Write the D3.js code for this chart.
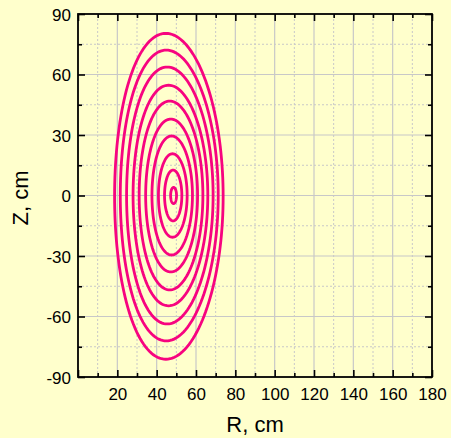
<!DOCTYPE html>
<html>
<head>
<meta charset="utf-8">
<script src="https://cdn.jsdelivr.net/npm/d3@7"></script>
<style>
  html, body { margin: 0; padding: 0; background: #ffffcc; }
  svg { display: block; }
  text { font-family: "Liberation Sans", Arial, Helvetica, sans-serif; fill: #000; }
</style>
</head>
<body>
<div id="chart"></div>
<script>
// ---- data ----
const xTickValues = [0, 20, 40, 60, 80, 100, 120, 140, 160, 180];
const xTickLabels = ["", "20", "40", "60", "80", "100", "120", "140", "160", "180"];
const xMinorValues = [10, 30, 50, 70, 90, 110, 130, 150, 170];
const yTickValues = [-90, -60, -30, 0, 30, 60, 90];
const yTickLabels = ["-90", "-60", "-30", "0", "30", "60", "90"];
const yMinorValues = [-75, -45, -15, 15, 45, 75];

// nested flux-surface contours (inner -> outer)
const contourCenterR   = [48.6, 48.4, 48.2, 47.9, 47.6, 47.3, 47.0, 46.7, 46.4, 46.2];
const contourCenterZ   = [0, 0, 0, 0, 0, 0, 0, 0, 0, -0.4];
const contourHalfWidth = [1.5, 4.4, 7.3, 10.3, 13.2, 16.2, 19.0, 22.0, 24.9, 27.6];
const contourHalfHeight= [4.0, 12.6, 20.7, 29.5, 37.9, 46.8, 54.7, 63.7, 72.1, 80.8];
const contourTriang    = [0.0, 0.01, 0.02, 0.03, 0.03, 0.04, 0.05, 0.06, 0.06, 0.055];

// ---- layout ----
const W = 451, H = 438;
const m = { left: 78, right: 19, top: 14, bottom: 61 };
const iw = W - m.left - m.right, ih = H - m.top - m.bottom;

const svg = d3.select("#chart").append("svg").attr("width", W).attr("height", H);
svg.append("rect").attr("width", W).attr("height", H).attr("fill", "#ffffcc");

const x = d3.scaleLinear().domain([0, 180]).range([m.left, m.left + iw]);
const y = d3.scaleLinear().domain([-90, 90]).range([m.top + ih, m.top]);

const g = svg.append("g");

// grid
const gridMajor = "#c8c8c8", gridMinor = "#c8c8c8";
g.selectAll(".vmin").data(xMinorValues).enter().append("line")
  .attr("x1", d => x(d)).attr("x2", d => x(d)).attr("y1", y(-90)).attr("y2", y(90))
  .attr("stroke", gridMinor).attr("stroke-width", 1).attr("stroke-dasharray", "2,2");
g.selectAll(".hmin").data(yMinorValues).enter().append("line")
  .attr("y1", d => y(d)).attr("y2", d => y(d)).attr("x1", x(0)).attr("x2", x(180))
  .attr("stroke", gridMinor).attr("stroke-width", 1).attr("stroke-dasharray", "2,2");
g.selectAll(".vmaj").data(xTickValues.slice(1, -1)).enter().append("line")
  .attr("x1", d => x(d)).attr("x2", d => x(d)).attr("y1", y(-90)).attr("y2", y(90))
  .attr("stroke", gridMajor).attr("stroke-width", 1.2);
g.selectAll(".hmaj").data(yTickValues.slice(1, -1)).enter().append("line")
  .attr("y1", d => y(d)).attr("y2", d => y(d)).attr("x1", x(0)).attr("x2", x(180))
  .attr("stroke", gridMajor).attr("stroke-width", 1.2);

// contours
const line = d3.line().x(d => x(d[0])).y(d => y(d[1])).curve(d3.curveLinearClosed);
const nSeg = 160;
contourCenterR.forEach((R0, i) => {
  const a = contourHalfWidth[i], b = contourHalfHeight[i], dlt = contourTriang[i], Z0 = contourCenterZ[i];
  const pts = d3.range(nSeg).map(k => {
    const t = 2 * Math.PI * k / nSeg;
    return [R0 + a * Math.cos(t + dlt * Math.sin(t)), Z0 + b * Math.sin(t)];
  });
  g.append("path").attr("d", line(pts)).attr("fill", "none")
    .attr("stroke", "#f7047f").attr("stroke-width", 2.8);
});

// axes (ticks inward on all sides)
const majorLen = 7, minorLen = 4;
const noLabel = () => "";
function ax(gen, tv, tf, tr) {
  return svg.append("g").attr("transform", tr).call(gen.tickValues(tv).tickFormat(tf).tickSizeOuter(0));
}
const fmtX = (d, i) => xTickLabels[i];
const fmtY = (d, i) => yTickLabels[i];

const axBot = ax(d3.axisBottom(x).tickSizeInner(-majorLen), xTickValues, fmtX, `translate(0,${y(-90)})`);
const axBotMin = ax(d3.axisBottom(x).tickSizeInner(-minorLen), xMinorValues, noLabel, `translate(0,${y(-90)})`);
const axTop = ax(d3.axisTop(x).tickSizeInner(-majorLen), xTickValues, noLabel, `translate(0,${y(90)})`);
const axTopMin = ax(d3.axisTop(x).tickSizeInner(-minorLen), xMinorValues, noLabel, `translate(0,${y(90)})`);
const axLft = ax(d3.axisLeft(y).tickSizeInner(-majorLen), yTickValues, fmtY, `translate(${x(0)},0)`);
const axLftMin = ax(d3.axisLeft(y).tickSizeInner(-minorLen), yMinorValues, noLabel, `translate(${x(0)},0)`);
const axRgt = ax(d3.axisRight(y).tickSizeInner(-majorLen), yTickValues, noLabel, `translate(${x(180)},0)`);
const axRgtMin = ax(d3.axisRight(y).tickSizeInner(-minorLen), yMinorValues, noLabel, `translate(${x(180)},0)`);

[axBot, axBotMin, axTop, axTopMin, axLft, axLftMin, axRgt, axRgtMin].forEach(s => {
  s.selectAll("path.domain").remove();
  s.selectAll(".tick line").attr("stroke", "#000").attr("stroke-width", 1.6);
  s.selectAll("text").style("font-family", '"Liberation Sans", Arial, sans-serif')
    .style("font-size", "17px").attr("fill", "#000");
});
axBot.selectAll("text").attr("y", 11).attr("dy", "0.71em");
axLft.selectAll("text").attr("x", -7).attr("dy", "0.36em");

// frame
svg.append("rect").attr("x", x(0)).attr("y", y(90)).attr("width", x(180) - x(0)).attr("height", y(-90) - y(90))
  .attr("fill", "none").attr("stroke", "#000").attr("stroke-width", 1.8);

// axis titles
svg.append("text").attr("x", (x(0) + x(180)) / 2).attr("y", 432).attr("text-anchor", "middle")
  .style("font-size", "22px").text("R, cm");
svg.append("text").attr("transform", `translate(28,${198}) rotate(-90)`).attr("text-anchor", "middle")
  .style("font-size", "22px").text("Z, cm");
</script>
</body>
</html>
